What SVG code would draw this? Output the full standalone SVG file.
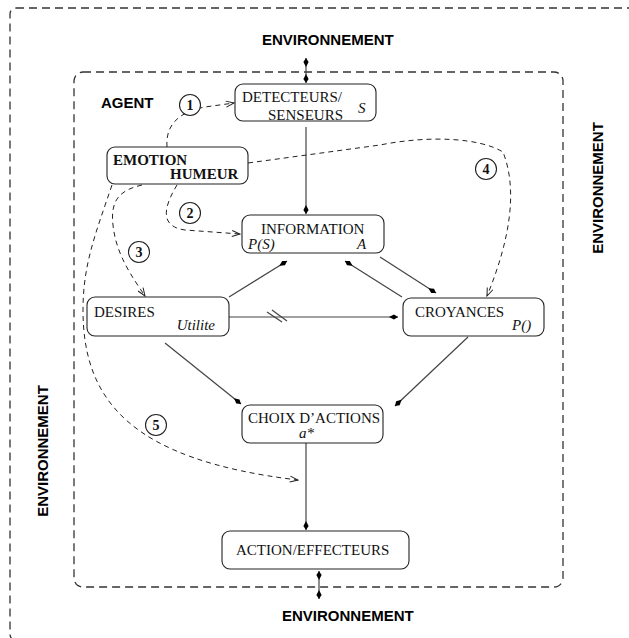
<svg xmlns="http://www.w3.org/2000/svg" width="629" height="638" viewBox="0 0 629 638">
<style>
.frame{fill:none;stroke:#333;stroke-width:1.3;stroke-dasharray:8,5}
.box{fill:#fff;stroke:#222;stroke-width:1.1}
.t{font-family:"Liberation Serif","Times New Roman",serif;font-size:15px;fill:#111}
.i{font-style:italic}
.b{font-weight:bold}
.env{font-family:"Liberation Sans",Arial,sans-serif;font-size:15px;font-weight:bold;fill:#000}
.sol{fill:none;stroke:#444;stroke-width:1.2}
.dsh{fill:none;stroke:#222;stroke-width:1;stroke-dasharray:5,4}
.num{fill:#fff;stroke:#222;stroke-width:1.1}
.nt{font-family:"Liberation Serif","Times New Roman",serif;font-size:14px;font-weight:bold;fill:#111;text-anchor:middle}
</style>
<defs>
<marker id="dia" viewBox="-10 -4 11 8" markerWidth="11" markerHeight="8" refX="0" refY="0" orient="auto-start-reverse" markerUnits="userSpaceOnUse">
<path d="M0,0 L-4,-2.6 L-9,0 L-4,2.6 Z" fill="#000"/>
</marker>
<marker id="open" viewBox="-9 -5 10 10" markerWidth="10" markerHeight="10" refX="0" refY="0" orient="auto" markerUnits="userSpaceOnUse">
<path d="M-8,-3 L0,0 L-8,3" fill="none" stroke="#222" stroke-width="1"/>
</marker>
</defs>

<g id="frames">
<rect class="frame" x="10" y="8" width="700" height="632" rx="6"/>
<rect class="frame" x="74" y="72" width="489" height="515" rx="9"/>
</g>

<g id="labels">
<text class="env" x="262" y="45">ENVIRONNEMENT</text>
<text class="env" x="282" y="621">ENVIRONNEMENT</text>
<text class="env" text-anchor="middle" transform="translate(603,188) rotate(-90)">ENVIRONNEMENT</text>
<text class="env" text-anchor="middle" transform="translate(48,451) rotate(-90)">ENVIRONNEMENT</text>
<text class="env" x="101" y="108">AGENT</text>
</g>

<g id="connectors">
<path class="sol" d="M306,58 L306,83" marker-start="url(#dia)" marker-end="url(#dia)"/>
<path class="sol" d="M306,127 L306,214" marker-end="url(#dia)"/>
<path class="sol" d="M229,297 L287,261" marker-end="url(#dia)"/>
<path class="sol" d="M402,297 L345,261" marker-end="url(#dia)"/>
<path class="sol" d="M380,257 L436,293" marker-end="url(#dia)"/>
<path class="sol" d="M229,317 L398,317" marker-end="url(#dia)"/>
<path class="sol" d="M267,312 L282,322 M272,310 L287,321"/>
<path class="sol" d="M165,343 L241,404" marker-end="url(#dia)"/>
<path class="sol" d="M468,337 L395,406" marker-end="url(#dia)"/>
<path class="sol" d="M306,443 L306,530" marker-end="url(#dia)"/>
<path class="sol" d="M319,571 L319,599" marker-start="url(#dia)" marker-end="url(#dia)"/>

<path class="dsh" d="M167,147 C165,122 183,111 205,107 L234,103" marker-end="url(#open)"/>
<path class="dsh" d="M177,185 C168,200 155,226 185,230 L240,234" marker-end="url(#open)"/>
<path class="dsh" d="M142,185 C120,190 110,200 113,225 C116,255 133,278 145,296" marker-end="url(#open)"/>
<path class="dsh" d="M248,163 L380,145 C430,135 480,138 503,152 C518,190 510,240 487,296" marker-end="url(#open)"/>
<path class="dsh" d="M112,185 C95,235 83,265 83,310 C83,400 130,460 298,480" marker-end="url(#open)"/>
</g>

<g id="n1"><circle class="num" cx="190" cy="105" r="10.5"/><text class="nt" x="190" y="110">1</text></g>
<g id="n2"><circle class="num" cx="190" cy="213" r="10.5"/><text class="nt" x="190" y="218">2</text></g>
<g id="n3"><circle class="num" cx="139" cy="252" r="10.5"/><text class="nt" x="139" y="257">3</text></g>
<g id="n4"><circle class="num" cx="486" cy="169" r="10.5"/><text class="nt" x="486" y="174">4</text></g>
<g id="n5"><circle class="num" cx="156" cy="425" r="10.5"/><text class="nt" x="156" y="430">5</text></g>

<g id="detecteurs">
<rect class="box" x="235" y="84" width="141" height="37" rx="8"/>
<text class="t" x="242" y="102">DETECTEURS/</text>
<text class="t" x="268" y="120">SENSEURS</text>
<text class="t i" x="358" y="113">S</text>
</g>

<g id="emotion">
<rect class="box" x="107" y="147" width="141" height="37" rx="8"/>
<text class="t b" x="113" y="165">EMOTION</text>
<text class="t b" x="170" y="179">HUMEUR</text>
</g>

<g id="information">
<rect class="box" x="242" y="215" width="142" height="38" rx="8"/>
<text class="t" x="261" y="234">INFORMATION</text>
<text class="t i" x="248" y="249">P(S)</text>
<text class="t i" x="357" y="249">A</text>
</g>

<g id="desires">
<rect class="box" x="87" y="297" width="142" height="39" rx="8"/>
<text class="t" x="94" y="317">DESIRES</text>
<text class="t i" x="215" y="330" text-anchor="end">Utilite</text>
</g>

<g id="croyances">
<rect class="box" x="403" y="298" width="141" height="38" rx="8"/>
<text class="t" x="415" y="317">CROYANCES</text>
<text class="t i" x="512" y="330">P()</text>
</g>

<g id="choix">
<rect class="box" x="242" y="405" width="141" height="38" rx="8"/>
<text class="t" x="248" y="423">CHOIX D’ACTIONS</text>
<text class="t i" x="299" y="438">a*</text>
</g>

<g id="action">
<rect class="box" x="222" y="531" width="187" height="38" rx="8"/>
<text class="t" x="236" y="555">ACTION/EFFECTEURS</text>
</g>
</svg>
